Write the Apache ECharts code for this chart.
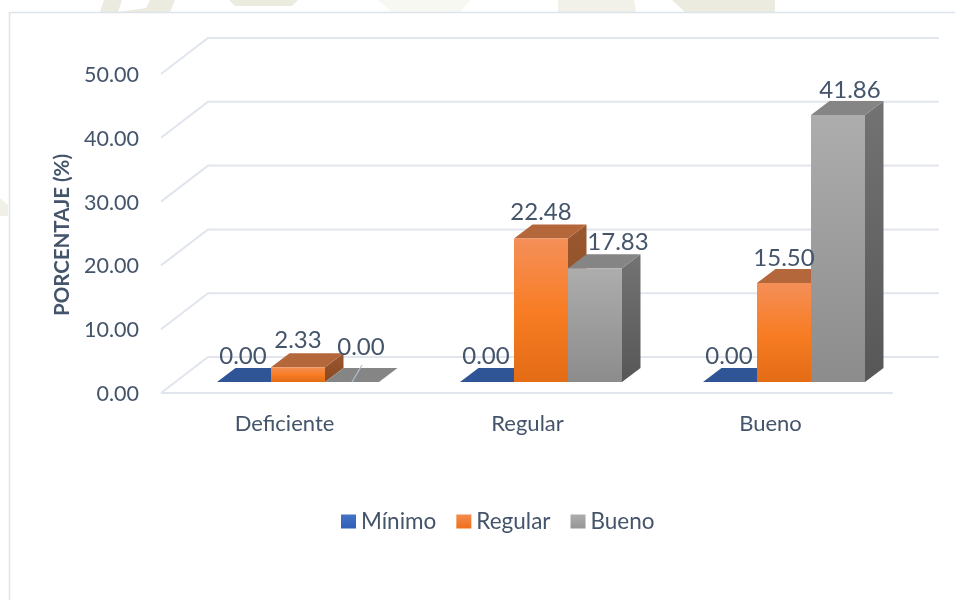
<!DOCTYPE html>
<html><head><meta charset="utf-8">
<style>html,body{margin:0;padding:0;background:#fff}#c{width:955px;height:600px}</style>
<script src="https://cdn.jsdelivr.net/npm/echarts@6/dist/echarts.min.js"></script>
</head><body><div id="c"></div>
<script>
const categories = ['Deficiente', 'Regular', 'Bueno'];
const minimo = [0.00, 0.00, 0.00];
const regular = [2.33, 22.48, 15.50];
const bueno = [0.00, 17.83, 41.86];
const yTicks = [0, 10, 20, 30, 40, 50];

const TEXT = '#44546a', GRID = '#e1e5ee', FONT = 'Lato', WM = '#ebebe0';
const BAR_W = 2 / 9, BAR_START = -5 / 18;
const DEPTH_X = 18.5, DEPTH_Y = 14, LIFT_Y = 10.5;
const lg = (...c) => ({type: 'linear', x: 0, y: 0, x2: 0, y2: 1, colorStops: c.map((color, i) => ({offset: i / (c.length - 1), color}))});
const wm = (pts, fill) => ({type: 'polygon', silent: true, z: -20, shape: {points: pts}, style: {fill: fill || WM}});

function bars(name, values, index, cfg) {
  return {
    type: 'custom', name, coordinateSystem: 'cartesian2d',
    data: values.map((v, i) => [i, v]),
    encode: {x: 0, y: 1},
    itemStyle: {color: cfg.legend},
    clip: false,
    renderItem(params, api) {
      const cat = api.value(0), v = api.value(1);
      const band = api.size([1, 0])[0];
      const c = api.coord([cat, v]);
      const b = api.coord([cat, 0]);
      const w = band * BAR_W;
      const x0 = c[0] + band * BAR_START + index * w;
      const x1 = x0 + w;
      const top = c[1] - LIFT_Y, base = b[1] - LIFT_Y;
      const d = [DEPTH_X, -DEPTH_Y];
      const poly = (pts, fill, z2) => ({type: 'polygon', shape: {points: pts}, style: {fill}, z2});
      const kids = [];
      if (v > 0) {
        kids.push(poly([[x1, top], [x1 + d[0], top + d[1]], [x1 + d[0], base + d[1]], [x1, base]], cfg.side, 2));
        kids.push({type: 'rect', shape: {x: x0, y: top, width: w, height: base - top}, style: {fill: cfg.front}, z2: 3});
      }
      kids.push(poly([[x0, top], [x0 + d[0], top + d[1]], [x1 + d[0], top + d[1]], [x1, top]], cfg.top, 2));
      const dx = cfg.labelDx[cat], dy = cfg.labelDy[cat];
      if (cfg.leader && cfg.leader.includes(cat)) {
        kids.push({type: 'line', shape: {x1: x0 + w / 2, y1: base, x2: x0 + w / 2 + 10, y2: base - 17},
          style: {stroke: '#b4c0d2', lineWidth: 1.2}, z2: 5});
      }
      kids.push({type: 'text', z2: 100, style: {x: x0 + w / 2 + dx, y: top + dy, text: v.toFixed(2),
        fill: TEXT, font: '24px ' + FONT, align: 'center', verticalAlign: 'middle'}});
      return {type: 'group', children: kids};
    }
  };
}

const option = {
  animation: false,
  backgroundColor: '#fff',
  textStyle: {fontFamily: FONT},
  graphic: [
    wm([[100, 12], [104, 0], [175, 0], [170, 12]]),
    wm([[118, 12], [122, 0], [150, 0], [146, 8]], '#ffffff'),
    wm([[229, 0], [298, 0], [292, 6], [235, 6]]),
    wm([[378, 0], [470, 0], [460, 12], [392, 12]], '#f8f8f3'),
    wm([[558, 0], [634, 0], [636, 12], [558, 12]], '#f1f1e9'),
    wm([[672, 0], [775, 0], [775, 12], [685, 12]]),
    wm([[0, 198], [8, 205], [8, 216], [0, 216]], '#f0f0e7'),
    {type: 'rect', silent: true, z: -10, shape: {x: 9.5, y: 12.5, width: 960, height: 600}, style: {fill: '#fff', stroke: '#dde3ea', lineWidth: 1.5}}
  ],
  legend: {
    left: 336, top: 505, icon: 'rect', itemWidth: 15, itemHeight: 14, itemGap: 20,
    textStyle: {color: TEXT, fontSize: 22.5, fontFamily: FONT},
    data: ['Mínimo', 'Regular', 'Bueno']
  },
  grid: {left: 163, top: 73.5, width: 729, height: 319},
  xAxis: {
    type: 'category', data: categories,
    axisLine: {show: true, lineStyle: {color: GRID, width: 2}},
    axisTick: {show: false},
    axisLabel: {color: TEXT, fontSize: 22, fontFamily: FONT, margin: 20}
  },
  yAxis: {
    type: 'value', min: 0, max: 50, interval: 10,
    name: 'PORCENTAJE (%)', nameLocation: 'middle', nameRotate: 90, nameGap: 90,
    nameTextStyle: {color: TEXT, fontSize: 20.5, fontWeight: 'bold', fontFamily: FONT, padding: [0, 4, 0, 0]},
    axisLine: {show: false}, axisTick: {show: false}, splitLine: {show: false},
    axisLabel: {
      color: TEXT, fontSize: 21.5, fontFamily: FONT, margin: 24,
      formatter: v => '{t|' + v.toFixed(2) + '}',
      rich: {t: {color: TEXT, fontSize: 21.5, fontFamily: FONT, padding: [3, 0, 0, 0]}}
    }
  },
  series: [
    {
      type: 'custom', name: 'wall', coordinateSystem: 'cartesian2d', silent: true, z: 1, clip: false,
      data: yTicks.map(t => [0, t]), encode: {x: 0, y: 1},
      renderItem(params, api) {
        const cs = params.coordSys, y = api.coord([0, api.value(1)])[1];
        return {type: 'polyline', shape: {points: [[cs.x - 2, y + 0.5], [cs.x + 45, y - 35.5], [cs.x + cs.width + 47, y - 35.5]]},
          style: {fill: null, stroke: GRID, lineWidth: 2}};
      }
    },
    bars('Mínimo', minimo, 0, {legend: lg('#4472c4', '#2f5fb8'), front: lg('#4472c4', '#2f5fb8'), side: '#2a4a80', top: '#2f5597',
      labelDx: [-1, -1, -1], labelDy: [-26, -26, -26]}),
    bars('Regular', regular, 1, {legend: lg('#f58a4e', '#ee6f1a'), front: lg('#f48f58', '#f87d25', '#e46c14'), side: lg('#99582f', '#8a4a20'), top: '#b5673c',
      labelDx: [0, 0, 0], labelDy: [-27, -26, -25]}),
    bars('Bueno', bueno, 2, {legend: lg('#adadad', '#959595'), front: lg('#adadad', '#8c8c8c'), side: lg('#737373', '#575757'), top: '#858585', leader: [0],
      labelDx: [9, 23, 12], labelDy: [-35, -26, -25]})
  ]
};
echarts.init(document.getElementById('c'), null, {renderer: 'canvas'}).setOption(option);
</script></body></html>
